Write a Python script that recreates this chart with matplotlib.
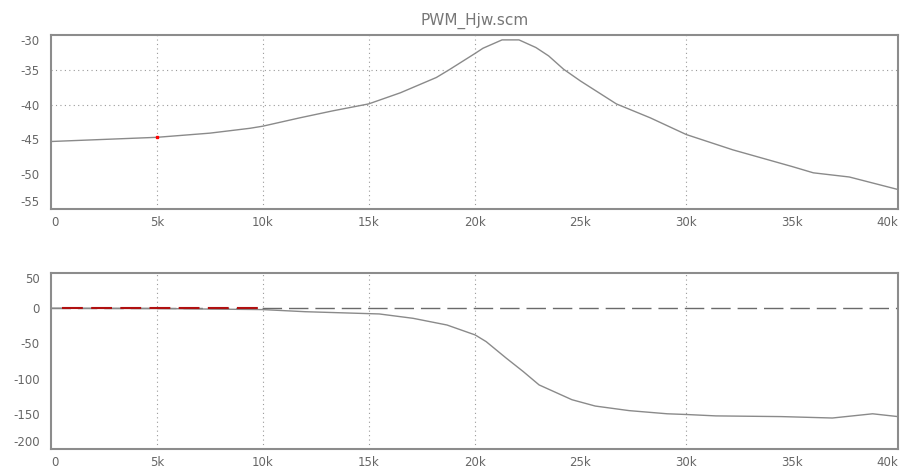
import matplotlib.pyplot as plt
import numpy as np

# Dados (frequência em Hz)
freq_mag = [0, 2500, 5000, 7500, 9400, 10000, 11750, 13300, 15000, 16500,
            18200, 18800, 20050, 20400, 21300, 22100, 22900, 23500, 24200,
            25000, 26700, 28300, 30000, 32200, 35000, 36000, 37700, 40000]
mag_db = [-45.3, -45.0, -44.7, -44.1, -43.4, -43.1, -41.9, -40.9, -39.9, -38.3,
          -36.1, -35.0, -32.6, -31.9, -30.7, -30.7, -31.8, -33.0, -34.9,
          -36.6, -39.9, -41.9, -44.3, -46.5, -48.9, -49.8, -50.4, -52.2]

freq_fase = [0, 5000, 10000, 12000, 15500, 17100, 18700, 20030, 20550, 21500,
             22300, 23050, 24600, 25700, 27300, 29100, 30000, 31400,
             34500, 36900, 38800, 40000]
fase_graus = [0, -0.5, -2, -5, -8.2, -14.4, -23.9, -38, -47.5, -71,
              -90, -109, -130, -139, -145.5, -150, -151, -153,
              -154, -156, -150, -154]

x_ticks = [0, 5000, 10000, 15000, 20000, 25000, 30000, 35000, 40000]
x_labels = ["0", "5k", "10k", "15k", "20k", "25k", "30k", "35k", "40k"]
grade_x = [5000, 10000, 15000, 20000, 30000]

top_ticks = [-30, -35, -40, -45, -50, -55]
bot_ticks = [50, 0, -50, -100, -150, -200]

cor_linha = "#8a8a8a"
cor_texto = "#666666"
cor_borda = "#8c8c8c"

fig = plt.figure(figsize=(9.01, 4.70), dpi=100)
fig.patch.set_facecolor("white")

ax1 = fig.add_axes([0.0566, 0.5553, 0.9401, 0.3702])
ax2 = fig.add_axes([0.0566, 0.0447, 0.9401, 0.3745])


def estilo(ax, yticks, ylim):
    ax.set_xlim(0, 40000)
    ax.set_ylim(*ylim)
    ax.set_xticks(x_ticks)
    ax.set_xticklabels(x_labels)
    ax.set_yticks(yticks)
    ax.set_yticklabels([str(t) for t in yticks])
    ax.tick_params(length=0, labelsize=8.5, colors=cor_texto)
    ax.tick_params(axis="y", pad=8)
    ax.tick_params(axis="x", pad=5)
    for s in ax.spines.values():
        s.set_color(cor_borda)
        s.set_linewidth(1.5)
    for x in grade_x:
        ax.axvline(x, color="#9a9a9a", linestyle=(0, (1, 3)), linewidth=0.8, zorder=0)
    # rótulos das extremidades ficam para dentro, como no original
    labs = ax.get_yticklabels()
    labs[0].set_va("top")
    labs[-1].set_va("bottom")
    xl = ax.get_xticklabels()
    xl[0].set_ha("left")
    xl[-1].set_ha("right")


# Gráfico de magnitude
estilo(ax1, top_ticks, (-55, -30))
for y in [-35, -40]:
    ax1.axhline(y, color="#9a9a9a", linestyle=(0, (1, 3)), linewidth=0.8, zorder=0)
ax1.plot(freq_mag, mag_db, color=cor_linha, linewidth=1.0)
ax1.plot([5000], [-44.7], marker="s", markersize=1.5, color="red")
ax1.set_title("PWM_Hjw.scm", fontsize=11, color="#777777", pad=7)

# Gráfico de fase
estilo(ax2, bot_ticks, (-200, 50))
ax2.axhline(0, color="#6a6a6a", linestyle=(0, (14, 5)), linewidth=1.0, zorder=1)
ax2.plot(freq_fase, fase_graus, color=cor_linha, linewidth=1.0, zorder=2)
ax2.plot([500, 9800], [0, 0], color="#b01010", linestyle=(0, (10, 4)),
         linewidth=1.5, zorder=3)

plt.savefig("out.png", dpi=100)
plt.close()
